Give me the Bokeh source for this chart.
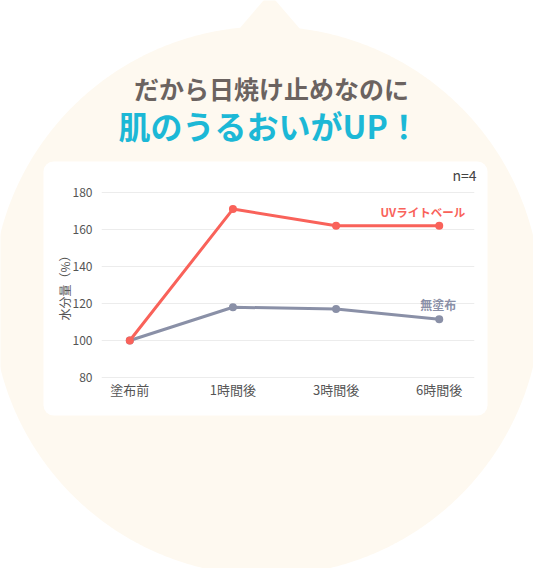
import numpy as np
from bokeh.plotting import figure
from bokeh.models import Range1d, FixedTicker
from bokeh.core.properties import value
from bokeh.embed import file_html
from bokeh.resources import INLINE

# ---------------- data ----------------
categories = ["塗布前", "1時間後", "3時間後", "6時間後"]
uv_values = [100, 171, 162, 162]
bare_values = [100, 118, 117, 111.5]
series_names = ["UVライトベール", "無塗布"]
y_ticks = [80, 100, 120, 140, 160, 180]
y_label = "水分量（%）"
note = "n=4"
headline_1 = "だから日焼け止めなのに"
headline_2 = "肌のうるおいがUP！"

# ---------------- style ----------------
FONT = "Noto Sans CJK JP"
CREAM = "#fef9f0"
RED = "#f9625a"
GRAY = "#8a90a7"
TEXT = "#555555"
CYAN = "#1cb8d6"
DARK = "#6b6360"

# page area in reference pixel coordinates (page margin 8px)
X0, X1, Y0, Y1 = 8, 541, 8, 576
# white card
CX0, CX1, CY0, CY1 = 51, 495, 169, 423
# speech bubble geometry (decoration)
BUB_X, BUB_Y, BUB_R = 274, 308.5, 274.5
theta = np.linspace(0, 2 * np.pi, 721)
bub_x = BUB_X + BUB_R * np.cos(theta)
bub_y = BUB_Y + BUB_R * np.sin(theta)
APEX_X, APEX_Y = 277, 1
base_y = 60
tri_x = [APEX_X, APEX_X - 30 * (base_y - APEX_Y) / 35, APEX_X + 31 * (base_y - APEX_Y) / 36]
tri_y = [APEX_Y, base_y, base_y]

# ---------------- background (bubble, card, headline) ----------------
bg = figure(width=X1 - X0, height=Y1 - Y0,
            x_range=Range1d(X0, X1), y_range=Range1d(Y1, Y0),
            output_backend="svg", toolbar_location=None, title=None,
            x_axis_location=None, y_axis_location=None,
            min_border=0, outline_line_color=None,
            background_fill_color="white", border_fill_color="white")
bg.grid.visible = False
bg.patch(bub_x, bub_y, fill_color=CREAM, line_color=None)
bg.patch(tri_x, tri_y, fill_color=CREAM, line_color=None)
bg.quad(left=[CX0], right=[CX1], top=[CY0], bottom=[CY1], fill_color="white",
        line_color=None, border_radius=10)
bg.text(x=[279], y=[95], text=[headline_1], text_align="center", text_baseline="middle",
        text_font=value(FONT), text_font_style="bold", text_font_size="25px", text_color=DARK)
bg.text(x=[126], y=[132], text=[headline_2], text_align="left", text_baseline="middle",
        text_font=value(FONT), text_font_style="bold", text_font_size="32px", text_color=CYAN)
bg.text(x=[484], y=[182], text=[note], text_align="right", text_baseline="middle",
        text_font=value(FONT), text_font_size="14px", text_color="#444444")

# ---------------- chart (own root, placed over the card) ----------------
xs = list(range(len(categories)))
chart = figure(width=CX1 - CX0, height=CY1 - CY0,
               x_range=Range1d(-0.2744, 3.342), y_range=Range1d(79.5, 180.5),
               output_backend="svg", toolbar_location=None, title=None,
               min_border_left=58, min_border_right=13, min_border_top=30, min_border_bottom=37,
               outline_line_color=None, background_fill_color="white", border_fill_color=None,
               styles={"position": "absolute", "left": f"{CX0 - X0}px", "top": f"{CY0 - Y0}px"})

chart.xgrid.visible = False
chart.ygrid.ticker = FixedTicker(ticks=y_ticks)
chart.ygrid.grid_line_color = "#ececec"
chart.ygrid.grid_line_width = 1

chart.xaxis.ticker = FixedTicker(ticks=xs)
chart.xaxis.major_label_overrides = {i: c for i, c in zip(xs, categories)}
chart.yaxis.ticker = FixedTicker(ticks=y_ticks)
chart.yaxis.axis_label = y_label
for ax in (chart.xaxis[0], chart.yaxis[0]):
    ax.axis_line_color = None
    ax.major_tick_line_color = None
    ax.minor_tick_line_color = None
    ax.major_tick_out = 0
    ax.major_tick_in = 0
    ax.minor_tick_out = 0
    ax.minor_tick_in = 0
    ax.major_label_text_font = FONT
    ax.major_label_text_color = TEXT
chart.xaxis.major_label_standoff = 1
chart.yaxis.major_label_standoff = 9
chart.xaxis.major_label_text_font_size = "13px"
chart.yaxis.major_label_text_font_size = "12px"
chart.yaxis.axis_label_text_font = FONT
chart.yaxis.axis_label_text_font_size = "12px"
chart.yaxis.axis_label_text_font_style = "normal"
chart.yaxis.axis_label_text_color = TEXT
chart.yaxis.axis_label_standoff = -3

chart.line(xs, bare_values, line_color=GRAY, line_width=3)
chart.scatter(xs, bare_values, size=8, fill_color=GRAY, line_color=None)
chart.line(xs, uv_values, line_color=RED, line_width=3)
chart.scatter(xs, uv_values, size=8, fill_color=RED, line_color=None)

last = len(categories) - 1
chart.text(x=[last], y=[uv_values[-1] + 7.2], text=[series_names[0]], x_offset=26,
           text_align="right", text_baseline="middle", text_font=value(FONT),
           text_font_style="bold", text_font_size="11.5px", text_color=RED)
chart.text(x=[last], y=[bare_values[-1] + 7.8], text=[series_names[1]], x_offset=-1,
           text_align="center", text_baseline="middle", text_font=value(FONT),
           text_font_style="bold", text_font_size="12px", text_color=GRAY)

open("out.html", "w").write(file_html([bg, chart], INLINE))
